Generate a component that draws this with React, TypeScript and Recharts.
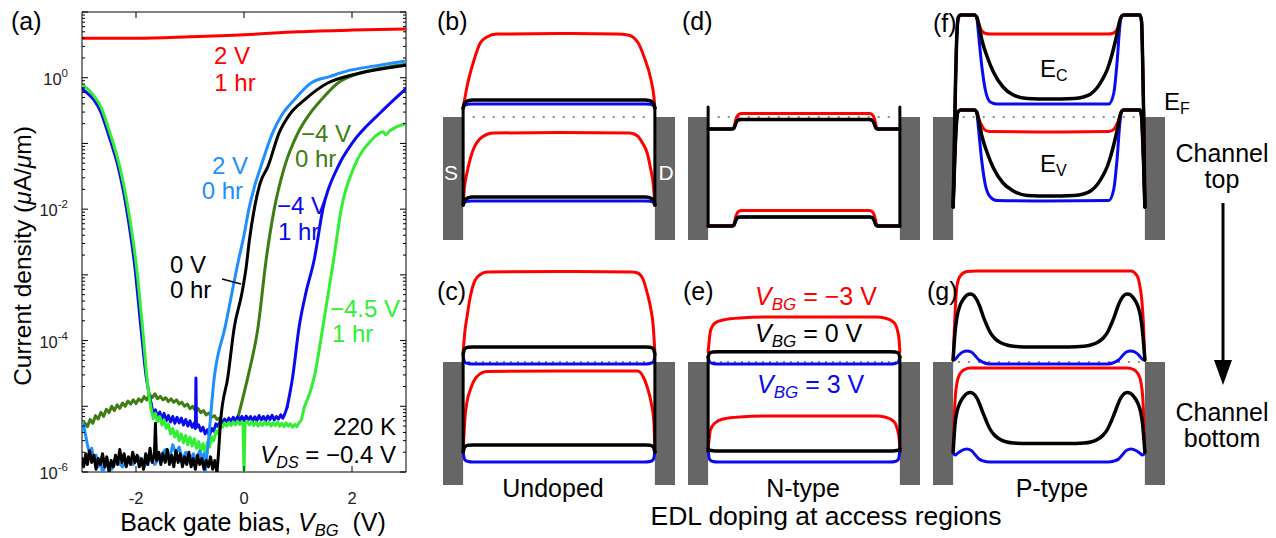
import React from 'react';
import { LineChart, Line, XAxis, YAxis, ReferenceArea } from 'recharts';

const FONT = "'Liberation Sans', Arial, Helvetica, sans-serif";
const RED = '#ff0000';
const BLUE = '#0a0af0';
const BLACK = '#000000';
const LBLUE = '#1e8fff';
const GREEN = '#33ee33';
const DGREEN = '#3d7d12';
const GRAY = '#666666';

type Pt = [number, number];
const P = (arr: Pt[]) => arr.map(([x, y]) => ({ x, y }));

// ---------------- Panel (a): transfer curves ----------------
const xTicksA = [-2, 0, 2];
const yMajorA = [1e-6, 1e-5, 1e-4, 1e-3, 1e-2, 1e-1, 1, 10];
const yLabelled = [1e-6, 1e-4, 1e-2, 1];
const mantissas = [2, 3, 4, 5, 6, 7, 8, 9];

const red2V1hr: Pt[] = [[-3, 4.0], [-2, 4.0], [-1, 4.2], [0, 4.5], [1, 5.0], [2, 5.3], [3, 5.5]];

const lblueNoise: Pt[] = [[-3, 4.5e-6], [-2.97, 5.3e-6], [-2.94, 3.9e-6], [-2.9, 2.6e-6], [-2.86, 1.9e-6], [-2.82, 2.3e-6], [-2.78, 1.5e-6], [-2.74, 1.8e-6], [-2.7, 1.2e-6], [-2.66, 1.5e-6], [-2.62, 1.0e-6], [-2.55, 1.3e-6], [-2.45, 1.1e-6], [-2.35, 1.5e-6], [-2.25, 1.2e-6], [-2.15, 1.6e-6], [-2.05, 1.3e-6], [-1.95, 1.7e-6], [-1.85, 1.2e-6], [-1.75, 1.6e-6], [-1.65, 1.3e-6], [-1.55, 1.8e-6], [-1.45, 2.2e-6], [-1.38, 1.6e-6], [-1.32, 2.6e-6], [-1.26, 1.9e-6], [-1.2, 2.4e-6], [-1.14, 1.5e-6], [-1.08, 2.0e-6], [-1.0, 1.4e-6], [-0.94, 1.9e-6], [-0.88, 1.5e-6], [-0.82, 2.1e-6], [-0.78, 1.6e-6], [-0.74, 1.9e-6], [-0.72, 1.0e-6]];
const lblueRise: Pt[] = [[-0.72, 1.0e-6], [-0.67, 2.4e-6], [-0.55, 2.75e-5], [-0.35, 1.6e-4], [-0.1, 1.7e-3], [0, 4e-3], [0.09, 1e-2], [0.2, 2.3e-2], [0.31, 4.4e-2], [0.53, 0.145], [0.7, 0.27], [0.93, 0.46], [1.24, 0.83], [1.6, 1.05], [1.9, 1.26], [2.4, 1.5], [3, 1.8]];

const blackNoise: Pt[] = [[-3, 1.6e-6], [-2.97, 1.2e-6], [-2.93, 1.9e-6], [-2.9, 1.3e-6], [-2.86, 2.1e-6], [-2.82, 1.4e-6], [-2.78, 1.8e-6], [-2.74, 1.1e-6], [-2.7, 1.6e-6], [-2.66, 1.3e-6], [-2.62, 1.9e-6], [-2.58, 1.2e-6], [-2.54, 1.7e-6], [-2.5, 1.0e-6], [-2.46, 1.5e-6], [-2.42, 1.2e-6], [-2.38, 1.8e-6], [-2.34, 1.3e-6], [-2.3, 2.2e-6], [-2.26, 1.4e-6], [-2.22, 1.9e-6], [-2.18, 1.2e-6], [-2.14, 1.7e-6], [-2.1, 1.3e-6], [-2.06, 2.0e-6], [-2.02, 1.4e-6], [-1.98, 1.8e-6], [-1.94, 1.2e-6], [-1.9, 1.6e-6], [-1.86, 1.1e-6], [-1.82, 1.9e-6], [-1.78, 1.3e-6], [-1.74, 2.3e-6], [-1.7, 1.4e-6], [-1.66, 1.8e-6], [-1.64, 5.5e-6], [-1.62, 1.5e-6], [-1.58, 2.0e-6], [-1.54, 1.3e-6], [-1.5, 1.9e-6], [-1.46, 1.4e-6], [-1.42, 2.2e-6], [-1.38, 1.3e-6], [-1.34, 1.8e-6], [-1.3, 1.2e-6], [-1.26, 2.1e-6], [-1.22, 1.4e-6], [-1.18, 1.9e-6], [-1.14, 1.2e-6], [-1.1, 1.7e-6], [-1.06, 1.3e-6], [-1.02, 2.0e-6], [-0.98, 1.2e-6], [-0.94, 1.6e-6], [-0.9, 1.1e-6], [-0.86, 1.8e-6], [-0.82, 1.3e-6], [-0.78, 1.6e-6], [-0.74, 1.1e-6], [-0.7, 1.5e-6], [-0.66, 1.2e-6], [-0.62, 1.7e-6], [-0.58, 1.1e-6], [-0.54, 1.5e-6], [-0.5, 1.0e-6]];
const blackRise: Pt[] = [[-0.5, 1.0e-6], [-0.48, 1.6e-6], [-0.43, 6.3e-6], [-0.3, 2.75e-5], [-0.18, 1.6e-4], [-0.04, 5.2e-4], [0.04, 1.3e-3], [0.1, 3.4e-3], [0.19, 1e-2], [0.3, 2.5e-2], [0.44, 4.4e-2], [0.65, 0.145], [0.85, 0.28], [1.12, 0.46], [1.55, 0.83], [2, 1.1], [2.4, 1.3], [3, 1.55]];

const dgreenNoise: Pt[] = [[-3, 4.4e-6], [-2.95, 5.6e-6], [-2.9, 4.9e-6], [-2.85, 6.3e-6], [-2.8, 5.5e-6], [-2.75, 7.2e-6], [-2.7, 6.4e-6], [-2.65, 8.1e-6], [-2.6, 7.0e-6], [-2.55, 9.0e-6], [-2.5, 8.0e-6], [-2.45, 1.0e-5], [-2.4, 8.6e-6], [-2.35, 1.05e-5], [-2.3, 9.3e-6], [-2.25, 1.12e-5], [-2.2, 1.0e-5], [-2.15, 1.2e-5], [-2.1, 1.08e-5], [-2.05, 1.25e-5], [-2.0, 1.1e-5], [-1.95, 1.3e-5], [-1.9, 1.18e-5], [-1.85, 1.4e-5], [-1.8, 1.25e-5], [-1.75, 1.5e-5], [-1.7, 1.35e-5], [-1.65, 1.55e-5], [-1.6, 1.3e-5], [-1.55, 1.42e-5], [-1.5, 1.25e-5], [-1.45, 1.35e-5], [-1.4, 1.18e-5], [-1.35, 1.3e-5], [-1.3, 1.15e-5], [-1.25, 1.25e-5], [-1.2, 1.08e-5], [-1.15, 1.15e-5], [-1.1, 1.0e-5], [-1.05, 1.08e-5], [-1.0, 9.2e-6], [-0.95, 1.0e-5], [-0.9, 8.6e-6], [-0.85, 9.2e-6], [-0.8, 8.0e-6], [-0.75, 8.6e-6], [-0.7, 7.4e-6], [-0.65, 7.9e-6], [-0.6, 6.8e-6], [-0.55, 7.2e-6], [-0.5, 6.3e-6], [-0.45, 6.6e-6], [-0.4, 5.8e-6], [-0.35, 6.2e-6], [-0.3, 5.6e-6], [-0.25, 6.0e-6], [-0.2, 5.8e-6], [-0.15, 6.4e-6], [-0.11, 6.9e-6]];
const dgreenRise: Pt[] = [[-0.11, 6.9e-6], [0.07, 2.75e-5], [0.26, 1.6e-4], [0.41, 1.7e-3], [0.56, 1e-2], [0.75, 4.4e-2], [1.0, 0.145], [1.2, 0.27], [1.43, 0.46], [1.74, 0.83], [2.2, 1.2], [2.6, 1.42], [3, 1.6]];

const blueFall: Pt[] = [[-3, 0.68], [-2.9, 0.58], [-2.78, 0.46], [-2.65, 0.3], [-2.52, 0.145], [-2.42, 8e-2], [-2.33, 4.4e-2], [-2.15, 7.6e-3], [-2.02, 1.3e-3], [-1.91, 1.6e-4], [-1.81, 2.75e-5], [-1.72, 1.1e-5]];
const blueNoise: Pt[] = [[-1.72, 1.1e-5], [-1.68, 7.5e-6], [-1.64, 8.8e-6], [-1.6, 6.8e-6], [-1.56, 8.2e-6], [-1.52, 6.2e-6], [-1.48, 7.8e-6], [-1.44, 6.0e-6], [-1.4, 7.2e-6], [-1.36, 5.8e-6], [-1.32, 7.0e-6], [-1.28, 5.5e-6], [-1.24, 6.8e-6], [-1.2, 5.6e-6], [-1.16, 6.6e-6], [-1.12, 5.2e-6], [-1.08, 6.3e-6], [-1.04, 5.0e-6], [-1.0, 6.0e-6], [-0.96, 4.8e-6], [-0.92, 5.6e-6], [-0.9, 4.6e-6], [-0.89, 2.7e-5], [-0.88, 4.8e-6], [-0.84, 5.2e-6], [-0.8, 4.2e-6], [-0.76, 4.8e-6], [-0.72, 3.8e-6], [-0.68, 4.4e-6], [-0.64, 3.6e-6], [-0.6, 4.6e-6], [-0.56, 4.2e-6], [-0.52, 5.4e-6], [-0.48, 4.9e-6], [-0.44, 6.0e-6], [-0.4, 5.3e-6], [-0.36, 6.4e-6], [-0.32, 5.6e-6], [-0.28, 6.6e-6], [-0.24, 5.8e-6], [-0.2, 6.8e-6], [-0.16, 5.9e-6], [-0.12, 6.9e-6], [-0.08, 6.0e-6], [-0.04, 7.0e-6], [0, 6.1e-6], [0.04, 7.1e-6], [0.08, 6.2e-6], [0.12, 7.0e-6], [0.16, 6.0e-6], [0.2, 6.9e-6], [0.24, 6.1e-6], [0.28, 7.2e-6], [0.32, 6.2e-6], [0.36, 7.0e-6], [0.4, 6.0e-6], [0.44, 7.1e-6], [0.48, 6.3e-6], [0.52, 7.3e-6], [0.56, 6.2e-6], [0.6, 7.0e-6], [0.64, 6.4e-6], [0.68, 7.4e-6], [0.72, 6.6e-6], [0.76, 7.8e-6], [0.8, 9.8e-6]];
const blueRise: Pt[] = [[0.8, 9.8e-6], [0.9, 2.75e-5], [1.02, 1.6e-4], [1.15, 5.5e-4], [1.3, 1.7e-3], [1.46, 1e-2], [1.74, 4.4e-2], [2.0, 0.1], [2.52, 0.29], [3, 0.68]];

const greenFall: Pt[] = [[-3, 0.78], [-2.9, 0.68], [-2.78, 0.53], [-2.65, 0.36], [-2.52, 0.18], [-2.42, 0.1], [-2.3, 4.4e-2], [-2.12, 7.6e-3], [-1.99, 1.3e-3], [-1.88, 1.6e-4], [-1.78, 2e-5], [-1.72, 9e-6]];
const greenNoise: Pt[] = [[-1.72, 9e-6], [-1.68, 6.5e-6], [-1.64, 7.8e-6], [-1.6, 5.8e-6], [-1.56, 7.0e-6], [-1.52, 5.2e-6], [-1.48, 6.2e-6], [-1.44, 4.6e-6], [-1.4, 5.4e-6], [-1.36, 3.8e-6], [-1.32, 4.6e-6], [-1.28, 3.4e-6], [-1.24, 4.2e-6], [-1.2, 3.0e-6], [-1.16, 3.8e-6], [-1.12, 2.8e-6], [-1.08, 3.6e-6], [-1.04, 2.6e-6], [-1.0, 3.4e-6], [-0.96, 2.5e-6], [-0.92, 3.2e-6], [-0.88, 2.3e-6], [-0.84, 2.9e-6], [-0.8, 2.1e-6], [-0.76, 2.7e-6], [-0.72, 2.0e-6], [-0.68, 2.8e-6], [-0.64, 2.4e-6], [-0.6, 3.4e-6], [-0.56, 3.0e-6], [-0.52, 4.2e-6], [-0.48, 3.8e-6], [-0.44, 5.2e-6], [-0.4, 4.8e-6], [-0.36, 5.6e-6], [-0.32, 5.0e-6], [-0.28, 5.7e-6], [-0.24, 5.1e-6], [-0.2, 5.8e-6], [-0.16, 5.2e-6], [-0.12, 5.9e-6], [-0.08, 5.3e-6], [-0.04, 5.8e-6], [-0.02, 5.4e-6], [0, 1.0e-6], [0.02, 5.5e-6], [0.06, 5.9e-6], [0.1, 5.2e-6], [0.14, 5.8e-6], [0.18, 5.1e-6], [0.22, 5.7e-6], [0.26, 5.0e-6], [0.3, 5.6e-6], [0.34, 5.1e-6], [0.38, 5.8e-6], [0.42, 5.2e-6], [0.46, 5.7e-6], [0.5, 5.0e-6], [0.54, 5.6e-6], [0.58, 5.1e-6], [0.62, 5.8e-6], [0.66, 5.0e-6], [0.7, 5.5e-6], [0.74, 4.9e-6], [0.78, 5.6e-6], [0.82, 5.0e-6], [0.86, 5.4e-6], [0.9, 4.8e-6], [0.94, 5.3e-6], [0.98, 4.9e-6], [1.02, 5.6e-6], [1.06, 6.2e-6], [1.12, 9.8e-6]];
const greenRise: Pt[] = [[1.12, 9.8e-6], [1.3, 2.75e-5], [1.46, 1.6e-4], [1.66, 1.7e-3], [1.8, 1e-2], [2.04, 4.4e-2], [2.35, 0.11], [2.58, 0.15], [2.62, 0.135], [2.7, 0.155], [3, 0.2]];

// ---------------- Band diagrams (position 0..100 across channel, energy rel. to E_F) ----------------
const bCbRed: Pt[] = [[0, 0.09], [2, 0.3], [3.7, 0.44], [5.2, 0.54], [8.9, 0.74], [12.4, 0.8], [17.5, 0.83], [50, 0.835], [80, 0.83], [86, 0.82], [91, 0.75], [94.4, 0.6], [98, 0.37], [99.5, 0.2], [100, 0.09]];
const bVbRed: Pt[] = [[0, -0.88], [0.6, -0.72], [2, -0.56], [3.7, -0.42], [5.2, -0.33], [9.9, -0.2], [15.7, -0.16], [50, -0.155], [87, -0.16], [91, -0.19], [93.5, -0.26], [96, -0.36], [97.6, -0.5], [99.3, -0.7], [100, -0.88]];
const bCbBlack: Pt[] = [[0, 0.09], [0.8, 0.14], [2.5, 0.163], [5, 0.17], [95, 0.17], [97.5, 0.163], [99.2, 0.14], [100, 0.09]];
const bCbBlue: Pt[] = [[0, 0.09], [0.8, 0.115], [2.5, 0.128], [5, 0.13], [95, 0.13], [97.5, 0.128], [99.2, 0.115], [100, 0.09]];
const bVbBlack: Pt[] = [[0, -0.88], [0.8, -0.83], [2.5, -0.808], [5, -0.8], [95, -0.8], [97.5, -0.808], [99.2, -0.83], [100, -0.88]];
const bVbBlue: Pt[] = [[0, -0.88], [0.8, -0.855], [2.5, -0.843], [5, -0.84], [95, -0.84], [97.5, -0.843], [99.2, -0.855], [100, -0.88]];
const bEdgeL: Pt[] = [[0, 0.09], [0, -0.88]];
const bEdgeR: Pt[] = [[100, 0.09], [100, -0.88]];
const bFermi: Pt[] = [[5, 0], [96, 0]];

const cCbRed: Pt[] = [[0, 0.1], [1, 0.32], [2, 0.45], [3.7, 0.65], [6.3, 0.82], [9, 0.875], [12.4, 0.9], [50, 0.905], [88, 0.9], [91, 0.89], [94, 0.82], [96, 0.69], [98, 0.52], [99, 0.39], [100, 0.1]];
const cCbBlack: Pt[] = [[0, 0.08], [0.8, 0.13], [2.5, 0.148], [5, 0.15], [95, 0.15], [97.5, 0.148], [99.2, 0.13], [100, 0.08]];
const cCbBlue: Pt[] = [[0, 0.06], [0.8, 0.0], [2.5, -0.015], [5, -0.02], [95, -0.02], [97.5, -0.015], [99.2, 0.0], [100, 0.06]];
const cVbRed: Pt[] = [[0, -0.9], [1, -0.55], [2, -0.4], [3.7, -0.28], [7, -0.15], [12.4, -0.095], [50, -0.09], [91, -0.09], [94, -0.15], [96, -0.25], [98, -0.4], [99.5, -0.61], [100, -0.9]];
const cVbBlack: Pt[] = [[0, -0.9], [0.8, -0.85], [2.5, -0.832], [5, -0.83], [95, -0.83], [97.5, -0.832], [99.2, -0.85], [100, -0.9]];
const cVbBlue: Pt[] = [[0, -0.9], [0.8, -0.975], [2.5, -0.995], [5, -1.0], [95, -1.0], [97.5, -0.995], [99.2, -0.975], [100, -0.9]];
const cEdgeL: Pt[] = [[0, 0.08], [0, -0.9]];
const cEdgeR: Pt[] = [[100, 0.08], [100, -0.9]];
const cFermi: Pt[] = [[2.5, 0], [98, 0]];

const dCbBlack: Pt[] = [[0, -0.12], [12.5, -0.12], [13.5, -0.11], [14.5, -0.06], [15.5, -0.032], [17, -0.025], [84, -0.025], [85.5, -0.032], [86.5, -0.06], [87.5, -0.11], [88.5, -0.12], [100, -0.12]];
const dCbRed: Pt[] = [[0, -0.12], [12.5, -0.12], [13.5, -0.1], [14.5, -0.02], [15.8, 0.025], [17.5, 0.035], [84, 0.035], [85.5, 0.025], [86.8, -0.02], [87.8, -0.1], [88.8, -0.12], [100, -0.12]];
const dVbBlack: Pt[] = [[0, -1.09], [12.5, -1.09], [13.5, -1.08], [14.5, -1.03], [15.5, -1.005], [17, -1.0], [84, -1.0], [85.5, -1.005], [86.5, -1.03], [87.5, -1.08], [88.5, -1.09], [100, -1.09]];
const dVbRed: Pt[] = [[0, -1.09], [12.5, -1.09], [13.5, -1.07], [14.5, -0.99], [15.8, -0.945], [17.5, -0.935], [84, -0.935], [85.5, -0.945], [86.8, -0.99], [87.8, -1.07], [88.8, -1.09], [100, -1.09]];
const dEdgeL: Pt[] = [[0, 0.1], [0, -1.09]];
const dEdgeR: Pt[] = [[100, 0.1], [100, -1.09]];
const dFermi: Pt[] = [[5, 0], [95, 0]];

const eCbRed: Pt[] = [[0, 0.1], [0.6, 0.22], [1.2, 0.31], [3.6, 0.39], [7.8, 0.42], [16.5, 0.44], [34, 0.45], [88, 0.45], [92, 0.44], [95, 0.42], [97.5, 0.38], [98.8, 0.31], [99.6, 0.22], [100, 0.1]];
const eCbBlack: Pt[] = [[0, 0.05], [0.8, 0.09], [2.5, 0.1], [5, 0.103], [95, 0.103], [97.5, 0.1], [99.2, 0.09], [100, 0.05]];
const eCbBlue: Pt[] = [[0, 0.05], [0.8, 0.0], [2.5, -0.015], [5, -0.02], [95, -0.02], [97.5, -0.015], [99.2, 0.0], [100, 0.05]];
const eVbRed: Pt[] = [[0, -0.86], [0.6, -0.76], [1.2, -0.68], [3.6, -0.61], [7.8, -0.57], [16.5, -0.55], [34, -0.54], [88, -0.54], [92, -0.55], [95, -0.57], [97.5, -0.61], [98.8, -0.68], [99.6, -0.76], [100, -0.86]];
const eVbBlack: Pt[] = [[0, -0.87], [0.8, -0.882], [2.5, -0.888], [5, -0.89], [95, -0.89], [97.5, -0.888], [99.2, -0.882], [100, -0.87]];
const eVbBlue: Pt[] = [[0, -0.89], [0.8, -0.975], [2.5, -0.995], [5, -1.0], [95, -1.0], [97.5, -0.995], [99.2, -0.975], [100, -0.89]];
const eEdgeL: Pt[] = [[0, 0.05], [0, -0.89]];
const eEdgeR: Pt[] = [[100, 0.05], [100, -0.89]];
const eFermi: Pt[] = [[2.5, 0], [98, 0]];

const fCbBlack: Pt[] = [[0, -0.9], [1.2, 0.3], [2, 0.85], [2.8, 1.0], [3.8, 1.02], [11, 1.02], [12.3, 1.0], [13.3, 0.93], [15, 0.77], [17.8, 0.6], [21, 0.45], [26, 0.3], [31.4, 0.22], [38.7, 0.185], [50, 0.18], [63, 0.185], [68, 0.2], [71.7, 0.23], [75, 0.29], [78, 0.38], [80.5, 0.48], [82.5, 0.6], [84.5, 0.75], [86, 0.88], [87, 0.97], [88, 1.01], [89, 1.02], [97.5, 1.02], [98.3, 0.95], [98.8, 0.6], [99.4, 0.0], [100, -0.9]];
const fCbBlue: Pt[] = [[0, -0.9], [1.2, 0.3], [2, 0.85], [2.8, 1.0], [3.8, 1.02], [11.5, 1.02], [12.5, 0.97], [13.2, 0.84], [15, 0.5], [16.8, 0.27], [19.4, 0.15], [22.7, 0.13], [50, 0.13], [81.2, 0.13], [83.8, 0.24], [85.6, 0.57], [87, 0.92], [88, 1.01], [89, 1.02], [97.5, 1.02], [98.3, 0.95], [98.8, 0.6], [99.4, 0.0], [100, -0.9]];
const fCbRed: Pt[] = [[0, -0.9], [1.2, 0.3], [2, 0.85], [2.8, 1.0], [3.8, 1.02], [11.5, 1.02], [12.5, 0.99], [13.5, 0.93], [15, 0.86], [17, 0.835], [19, 0.83], [50, 0.83], [81, 0.83], [83, 0.835], [85, 0.86], [86.5, 0.93], [87.5, 0.99], [88.5, 1.02], [97.5, 1.02], [98.3, 0.95], [98.8, 0.6], [99.4, 0.0], [100, -0.9]];
const fVbBlack: Pt[] = [[0, -0.9], [0.8, -0.45], [1.6, -0.1], [2.5, 0.05], [3.8, 0.07], [11, 0.07], [12.3, 0.05], [13.3, -0.03], [15, -0.19], [17.8, -0.36], [21, -0.51], [26, -0.66], [31.4, -0.74], [38.7, -0.785], [50, -0.79], [63, -0.785], [68, -0.77], [71.7, -0.74], [75, -0.68], [78, -0.59], [80.5, -0.49], [82.5, -0.37], [84.5, -0.22], [86, -0.09], [87, 0.01], [88, 0.06], [89, 0.07], [97.5, 0.07], [98.3, 0.0], [98.8, -0.2], [99.4, -0.5], [100, -0.9]];
const fVbBlue: Pt[] = [[0, -0.9], [0.8, -0.45], [1.6, -0.1], [2.5, 0.05], [3.8, 0.07], [11.5, 0.07], [12.5, 0.02], [13.2, -0.11], [15, -0.45], [16.8, -0.68], [19.4, -0.8], [22.7, -0.835], [50, -0.84], [81.2, -0.835], [83.8, -0.72], [85.6, -0.4], [87, -0.05], [88, 0.06], [89, 0.07], [97.5, 0.07], [98.3, 0.0], [98.8, -0.2], [99.4, -0.5], [100, -0.9]];
const fVbRed: Pt[] = [[0, -0.9], [0.8, -0.45], [1.6, -0.1], [2.5, 0.05], [3.8, 0.07], [11.5, 0.07], [12.5, 0.04], [13.5, -0.02], [15, -0.09], [17, -0.135], [19, -0.145], [50, -0.15], [81, -0.145], [83, -0.135], [85, -0.09], [86.5, -0.02], [87.5, 0.04], [88.5, 0.07], [97.5, 0.07], [98.3, 0.0], [98.8, -0.2], [99.4, -0.5], [100, -0.9]];
const fFermi: Pt[] = [[5, 0], [96, 0]];

const gCbRed: Pt[] = [[0, 0.02], [0.7, 0.35], [1.3, 0.6], [2, 0.76], [3.7, 0.86], [7.2, 0.905], [12, 0.91], [50, 0.91], [92.7, 0.91], [96, 0.86], [97.5, 0.75], [98.5, 0.6], [99.2, 0.4], [100, 0.02]];
const gCbBlack: Pt[] = [[0, 0.02], [1, 0.3], [2, 0.45], [3.5, 0.56], [5.4, 0.63], [7.2, 0.67], [9, 0.68], [10.8, 0.665], [12.4, 0.62], [14, 0.55], [15.8, 0.45], [17.5, 0.37], [19.2, 0.3], [21.5, 0.24], [24.6, 0.195], [28, 0.17], [31.6, 0.158], [40, 0.15], [60, 0.15], [68.2, 0.158], [71.8, 0.17], [75.2, 0.195], [78.3, 0.24], [80.6, 0.3], [82.3, 0.37], [84, 0.45], [85.8, 0.55], [87.4, 0.62], [89, 0.665], [90.8, 0.68], [92.6, 0.67], [94.4, 0.63], [96.3, 0.56], [97.8, 0.45], [98.8, 0.3], [100, 0.02]];
const gCbBlue: Pt[] = [[0, 0.02], [1.2, 0.03], [3, 0.07], [5, 0.1], [7.2, 0.11], [9.5, 0.1], [11.6, 0.06], [13.5, 0.02], [15.8, -0.005], [19.2, -0.02], [50, -0.02], [80.6, -0.02], [84, -0.005], [86.3, 0.02], [88.2, 0.06], [90.3, 0.1], [92.6, 0.11], [94.8, 0.1], [96.8, 0.07], [98.6, 0.03], [100, 0.02]];
const gVbRed: Pt[] = [[0, -0.9], [0.6, -0.55], [1.2, -0.33], [2, -0.21], [3.5, -0.12], [6, -0.075], [9, -0.06], [50, -0.06], [91, -0.06], [94, -0.075], [96.5, -0.12], [98, -0.21], [98.8, -0.33], [99.4, -0.55], [100, -0.9]];
const gVbBlack: Pt[] = [[0, -0.9], [1, -0.62], [2, -0.5], [3.5, -0.41], [5.4, -0.35], [7.2, -0.315], [9, -0.305], [10.8, -0.32], [12.4, -0.36], [14, -0.43], [15.8, -0.52], [17.5, -0.6], [19.2, -0.67], [21.5, -0.73], [24.6, -0.775], [28, -0.8], [31.6, -0.81], [40, -0.815], [60, -0.815], [68.2, -0.81], [71.8, -0.8], [75.2, -0.775], [78.3, -0.73], [80.6, -0.67], [82.3, -0.6], [84, -0.52], [85.8, -0.43], [87.4, -0.36], [89, -0.32], [90.8, -0.305], [92.6, -0.315], [94.4, -0.35], [96.3, -0.41], [97.8, -0.5], [98.8, -0.62], [100, -0.9]];
const gVbBlue: Pt[] = [[0, -0.91], [1, -0.93], [2.5, -0.91], [4.5, -0.885], [7, -0.87], [9.5, -0.885], [11.6, -0.93], [13.5, -0.97], [15.8, -0.99], [19.2, -1.0], [50, -1.0], [80.6, -1.0], [84, -0.99], [86.3, -0.97], [88.2, -0.93], [90.3, -0.885], [92.8, -0.87], [95.3, -0.885], [97.3, -0.91], [98.8, -0.93], [100, -0.91]];
const gFermi: Pt[] = [[2.5, 0], [98, 0]];

// ---------------- ticks for panel (a) ----------------
const PW = 324;
const PH = 460;

const YTick = (props: any) => {
  const { x, y, payload } = props;
  const v = payload.value as number;
  const exp = Math.round(Math.log10(v));
  const isMajor = Math.abs(v / Math.pow(10, exp) - 1) < 1e-6;
  const len = isMajor ? 6 : 3;
  const labelled = yLabelled.some((t) => Math.abs(t / v - 1) < 1e-6);
  return (
    <g>
      <line x1={x} x2={x + len} y1={y} y2={y} stroke="#000" strokeWidth={1} />
      <line x1={x + PW} x2={x + PW - len} y1={y} y2={y} stroke="#000" strokeWidth={1} />
      {labelled && (
        <text x={x - 14} y={y + 7} textAnchor="end" fontSize={16.5} fontFamily={FONT} fill="#222">
          10
          <tspan dy={-8} fontSize={11.5}>{String(exp)}</tspan>
        </text>
      )}
    </g>
  );
};

const XTick = (props: any) => {
  const { x, y, payload } = props;
  const v = payload.value as number;
  return (
    <g>
      <line x1={x} x2={x} y1={y} y2={y - 6} stroke="#000" strokeWidth={1} />
      <line x1={x} x2={x} y1={y - PH} y2={y - PH + 6} stroke="#000" strokeWidth={1} />
      <text x={x} y={y + 32} textAnchor="middle" fontSize={16.5} fontFamily={FONT} fill="#222">
        {v < 0 ? `-${Math.abs(v)}` : String(v)}
      </text>
    </g>
  );
};

const yTicksA: number[] = [];
yMajorA.forEach((d) => {
  yTicksA.push(d);
  if (d < 10) mantissas.forEach((m) => yTicksA.push(m * d));
});

const series = (data: Pt[], color: string, type: 'linear' | 'monotone', w = 3) => (
  <Line
    data={P(data)}
    dataKey="y"
    type={type}
    stroke={color}
    strokeWidth={w}
    dot={false}
    activeDot={false}
    isAnimationActive={false}
    strokeLinejoin="round"
    strokeLinecap="round"
  />
);

function PanelA() {
  return (
    <div style={{ position: 'absolute', left: 0, top: 0 }}>
      <LineChart width={420} height={538} margin={{ top: 12, right: 14, bottom: 26, left: 22 }}>
        <XAxis
          type="number"
          dataKey="x"
          domain={[-3, 3]}
          ticks={xTicksA}
          interval={0}
          height={40}
          tickSize={0}
          tickMargin={0}
          axisLine={false}
          tickLine={false}
          tick={(p: any) => <XTick {...p} />}
          allowDataOverflow
        />
        <YAxis
          type="number"
          dataKey="y"
          scale="log"
          domain={[1e-6, 10]}
          ticks={yTicksA}
          interval={0}
          width={60}
          tickSize={0}
          tickMargin={0}
          axisLine={false}
          tickLine={false}
          tick={(p: any) => <YTick {...p} />}
          allowDataOverflow
        />
        <ReferenceArea x1={-3} x2={3} y1={1e-6} y2={10} fill="none" stroke="#000" strokeWidth={1} ifOverflow="visible" />
        {series(red2V1hr, RED, 'monotone')}
        {series(dgreenNoise, DGREEN, 'linear')}
        {series(dgreenRise, DGREEN, 'monotone')}
        {series(blueFall, BLUE, 'monotone')}
        {series(blueNoise, BLUE, 'linear')}
        {series(blueRise, BLUE, 'monotone')}
        {series(greenFall, GREEN, 'monotone')}
        {series(greenNoise, GREEN, 'linear')}
        {series(greenRise, GREEN, 'monotone')}
        {series(lblueNoise, LBLUE, 'linear')}
        {series(lblueRise, LBLUE, 'monotone')}
        {series(blackNoise, BLACK, 'linear')}
        {series(blackRise, BLACK, 'monotone')}
      </LineChart>
    </div>
  );
}

type BandLine = { data: Pt[]; color: string; type?: 'linear' | 'monotone'; w?: number };

function Band({ left, top, fermi, dash, lines }: { left: number; top: number; fermi: Pt[]; dash: string; lines: BandLine[] }) {
  return (
    <div style={{ position: 'absolute', left, top }}>
      <LineChart width={232} height={245} margin={{ top: 0, right: 0, bottom: 0, left: 0 }}>
        <XAxis type="number" dataKey="x" domain={[-10.5, 110.5]} hide allowDataOverflow />
        <YAxis type="number" dataKey="y" domain={[-1.28, 1.17]} hide allowDataOverflow />
        <ReferenceArea x1={-10.5} x2={0} y1={-1.23} y2={0} fill={GRAY} fillOpacity={1} stroke="none" />
        <ReferenceArea x1={100} x2={110.5} y1={-1.23} y2={0} fill={GRAY} fillOpacity={1} stroke="none" />
        <Line
          data={P(fermi)}
          dataKey="y"
          type="linear"
          stroke="#8c8c8c"
          strokeWidth={2}
          strokeDasharray={dash}
          dot={false}
          activeDot={false}
          isAnimationActive={false}
        />
        {lines.map((l, i) => (
          <Line
            key={i}
            data={P(l.data)}
            dataKey="y"
            type={l.type ?? 'monotone'}
            stroke={l.color}
            strokeWidth={l.w ?? 3}
            dot={false}
            activeDot={false}
            isAnimationActive={false}
            strokeLinejoin="round"
            strokeLinecap="round"
          />
        ))}
      </LineChart>
    </div>
  );
}

const T = (props: any) => <text fontFamily={FONT} fontSize={24} {...props} />;

function Overlay() {
  return (
    <svg width={1276} height={538} style={{ position: 'absolute', left: 0, top: 0, pointerEvents: 'none' }}>
      {/* panel (a) annotations */}
      <T x={11} y={30} fontSize={25}>(a)</T>
      <T x={232} y={64} fill={RED} textAnchor="middle">2 V</T>
      <T x={235} y={91} fill={RED} textAnchor="middle">1 hr</T>
      <T x={248} y={174} fill={LBLUE} textAnchor="end">2 V</T>
      <T x={243} y={199} fill={LBLUE} textAnchor="end">0 hr</T>
      <T x={301} y={142} fill={DGREEN}>−4 V</T>
      <T x={295} y={167} fill={DGREEN}>0 hr</T>
      <T x={277} y={214} fill={BLUE}>−4 V</T>
      <T x={278} y={240} fill={BLUE}>1 hr</T>
      <T x={170} y={273} fill={BLACK}>0 V</T>
      <T x={170} y={298} fill={BLACK}>0 hr</T>
      <line x1={222} y1={279} x2={241} y2={284} stroke="#000" strokeWidth={1.5} />
      <T x={330} y={317} fill={GREEN}>−4.5 V</T>
      <T x={332} y={342} fill={GREEN}>1 hr</T>
      <T x={396} y={435} textAnchor="end">220 K</T>
      <T x={396} y={463} textAnchor="end">
        <tspan fontStyle="italic">V</tspan>
        <tspan fontStyle="italic" fontSize={16} dy={5}>DS</tspan>
        <tspan dy={-5}> = −0.4 V</tspan>
      </T>
      <T x={253} y={531} textAnchor="middle" fontSize={25}>
        Back gate bias, <tspan fontStyle="italic">V</tspan>
        <tspan fontStyle="italic" fontSize={16.5} dy={5}>BG</tspan>
        <tspan dy={-5}>{'\u00a0\u00a0(V)'}</tspan>
      </T>
      <T x={31} y={256} textAnchor="middle" fontSize={24.5} transform="rotate(-90 31 256)">
        Current density (<tspan fontStyle="italic">μ</tspan>A/<tspan fontStyle="italic">μ</tspan>m)
      </T>

      {/* band panel labels */}
      <T x={437} y={30} fontSize={25}>(b)</T>
      <T x={437} y={300} fontSize={25}>(c)</T>
      <T x={682} y={30} fontSize={25}>(d)</T>
      <T x={683} y={300} fontSize={25}>(e)</T>
      <T x={933} y={32} fontSize={25}>(f)</T>
      <T x={927} y={300} fontSize={25}>(g)</T>
      <T x={451} y={180} fill="#fff" fontSize={21} textAnchor="middle">S</T>
      <T x={666} y={180} fill="#fff" fontSize={21} textAnchor="middle">D</T>

      <T x={755} y={305} fill={RED} fontSize={25}>
        <tspan fontStyle="italic">V</tspan>
        <tspan fontStyle="italic" fontSize={17} dy={5}>BG</tspan>
        <tspan dy={-5}> = −3 V</tspan>
      </T>
      <T x={755} y={342} fill={BLACK} fontSize={25}>
        <tspan fontStyle="italic">V</tspan>
        <tspan fontStyle="italic" fontSize={17} dy={5}>BG</tspan>
        <tspan dy={-5}> = 0 V</tspan>
      </T>
      <T x={757} y={393} fill={BLUE} fontSize={25}>
        <tspan fontStyle="italic">V</tspan>
        <tspan fontStyle="italic" fontSize={17} dy={5}>BG</tspan>
        <tspan dy={-5}> = 3 V</tspan>
      </T>

      <T x={1040} y={77}>
        E<tspan fontSize={16} dy={4}>C</tspan>
      </T>
      <T x={1040} y={172}>
        E<tspan fontSize={16} dy={4}>V</tspan>
      </T>
      <T x={1164} y={110}>
        E<tspan fontSize={16} dy={4}>F</tspan>
      </T>

      <T x={1222} y={162} textAnchor="middle" fontSize={25}>Channel</T>
      <T x={1222} y={188} textAnchor="middle" fontSize={25}>top</T>
      <line x1={1223} y1={203} x2={1223} y2={364} stroke="#000" strokeWidth={3} />
      <polygon points="1214,360 1232,360 1223,385" fill="#000" />
      <T x={1222} y={421} textAnchor="middle" fontSize={25}>Channel</T>
      <T x={1222} y={447} textAnchor="middle" fontSize={25}>bottom</T>

      <T x={553} y={497} textAnchor="middle" fontSize={25}>Undoped</T>
      <T x={803} y={497} textAnchor="middle" fontSize={25}>N-type</T>
      <T x={1052} y={497} textAnchor="middle" fontSize={25}>P-type</T>
      <T x={826} y={525} textAnchor="middle" fontSize={26.5}>EDL doping at access regions</T>
    </svg>
  );
}

export default function App() {
  return (
    <div style={{ position: 'absolute', left: 0, top: 0, width: 1276, height: 538, background: '#fff', overflow: 'hidden' }}>
      <PanelA />
      <Band
        left={443}
        top={0}
        fermi={bFermi}
        dash="2 8"
        lines={[
          { data: bCbBlue, color: BLUE },
          { data: bVbBlue, color: BLUE },
          { data: bCbRed, color: RED },
          { data: bVbRed, color: RED },
          { data: bCbBlack, color: BLACK, w: 3.5 },
          { data: bVbBlack, color: BLACK, w: 3.5 },
          { data: bEdgeL, color: BLACK, type: 'linear' },
          { data: bEdgeR, color: BLACK, type: 'linear' },
        ]}
      />
      <Band
        left={443}
        top={245}
        fermi={cFermi}
        dash="2 5"
        lines={[
          { data: cCbBlue, color: BLUE },
          { data: cVbBlue, color: BLUE },
          { data: cCbRed, color: RED },
          { data: cVbRed, color: RED },
          { data: cCbBlack, color: BLACK, w: 3.5 },
          { data: cVbBlack, color: BLACK, w: 3.5 },
          { data: cEdgeL, color: BLACK, type: 'linear' },
          { data: cEdgeR, color: BLACK, type: 'linear' },
        ]}
      />
      <Band
        left={688}
        top={0}
        fermi={dFermi}
        dash="2 8"
        lines={[
          { data: dCbBlack, color: BLUE },
          { data: dVbBlack, color: BLUE },
          { data: dCbRed, color: RED },
          { data: dVbRed, color: RED },
          { data: dCbBlack, color: BLACK, w: 3.5 },
          { data: dVbBlack, color: BLACK, w: 3.5 },
          { data: dEdgeL, color: BLACK, type: 'linear' },
          { data: dEdgeR, color: BLACK, type: 'linear' },
        ]}
      />
      <Band
        left={688}
        top={245}
        fermi={eFermi}
        dash="2 5"
        lines={[
          { data: eCbBlue, color: BLUE },
          { data: eVbBlue, color: BLUE },
          { data: eCbRed, color: RED },
          { data: eVbRed, color: RED },
          { data: eCbBlack, color: BLACK, w: 3.5 },
          { data: eVbBlack, color: BLACK, w: 3.5 },
          { data: eEdgeL, color: BLACK, type: 'linear' },
          { data: eEdgeR, color: BLACK, type: 'linear' },
        ]}
      />
      <Band
        left={933}
        top={0}
        fermi={fFermi}
        dash="2 8"
        lines={[
          { data: fCbBlue, color: BLUE },
          { data: fVbBlue, color: BLUE },
          { data: fCbRed, color: RED },
          { data: fVbRed, color: RED },
          { data: fCbBlack, color: BLACK, w: 3.5 },
          { data: fVbBlack, color: BLACK, w: 3.5 },
        ]}
      />
      <Band
        left={933}
        top={245}
        fermi={gFermi}
        dash="2 8"
        lines={[
          { data: gCbBlue, color: BLUE },
          { data: gVbBlue, color: BLUE },
          { data: gCbRed, color: RED },
          { data: gVbRed, color: RED },
          { data: gCbBlack, color: BLACK, w: 3.5 },
          { data: gVbBlack, color: BLACK, w: 3.5 },
        ]}
      />
      <Overlay />
    </div>
  );
}
